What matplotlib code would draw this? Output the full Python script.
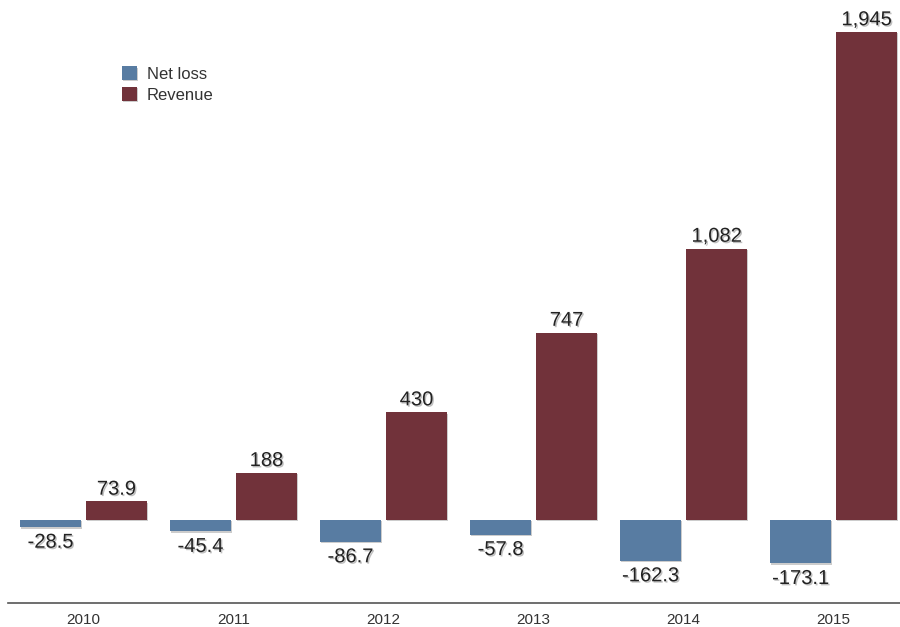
import matplotlib
matplotlib.use("Agg")
import matplotlib.pyplot as plt
import matplotlib.patheffects as pe
import numpy as np

years = ["2010", "2011", "2012", "2013", "2014", "2015"]
net_loss = [-28.5, -45.4, -86.7, -57.8, -162.3, -173.1]
revenue = [73.9, 188, 430, 747, 1082, 1945]
net_loss_labels = ["-28.5", "-45.4", "-86.7", "-57.8", "-162.3", "-173.1"]
revenue_labels = ["73.9", "188", "430", "747", "1,082", "1,945"]

blue = "#587ca2"
red = "#71323a"

plt.rcParams['font.family'] = ['Liberation Sans', 'DejaVu Sans']

fig = plt.figure(figsize=(9, 6.27), dpi=100)
ax = fig.add_axes([8/900, 24/627, 892/900, 603/627])
ax.set_xlim(-0.503, 5.443)
ax.set_ylim(-330.8, 2072.5)

x = np.arange(len(years))
w = 0.407
off = 0.22
shadow = [pe.SimplePatchShadow(offset=(1, -1), shadow_rgbFace='black', alpha=0.2), pe.Normal()]
b1 = ax.bar(x - off, net_loss, w, color=blue, label="Net loss", zorder=3)
b2 = ax.bar(x + off, revenue, w, color=red, label="Revenue", zorder=3)
for b in list(b1) + list(b2):
    b.set_path_effects(shadow)

tshadow = [pe.SimplePatchShadow(offset=(1, -1), shadow_rgbFace='gray', alpha=0.5), pe.Normal()]
for xi, v, lab in zip(x, net_loss, net_loss_labels):
    ax.annotate(lab, (xi - off, v), xytext=(0, -4), textcoords='offset points',
                ha='center', va='top', fontsize=14.5, color='#222222', path_effects=tshadow)
for xi, v, lab in zip(x, revenue, revenue_labels):
    ax.annotate(lab, (xi + off, v), xytext=(0, 2), textcoords='offset points',
                ha='center', va='bottom', fontsize=14.5, color='#222222', path_effects=tshadow)

ax.set_xticks(x)
ax.set_xticklabels(years, fontsize=11, color='#333333')
ax.tick_params(axis='x', length=0, pad=7)
ax.set_yticks([])
for s in ['top', 'right', 'left']:
    ax.spines[s].set_visible(False)
ax.spines['bottom'].set_color('#555555')
ax.spines['bottom'].set_linewidth(1.2)

leg = ax.legend(loc='upper left', bbox_to_anchor=(0.111, 0.915), frameon=False,
                fontsize=12, handlelength=0.9, handleheight=0.9, handletextpad=0.6,
                labelspacing=0.3)
for t in leg.get_texts():
    t.set_color('#333333')

fig.savefig("out.png", dpi=100)
